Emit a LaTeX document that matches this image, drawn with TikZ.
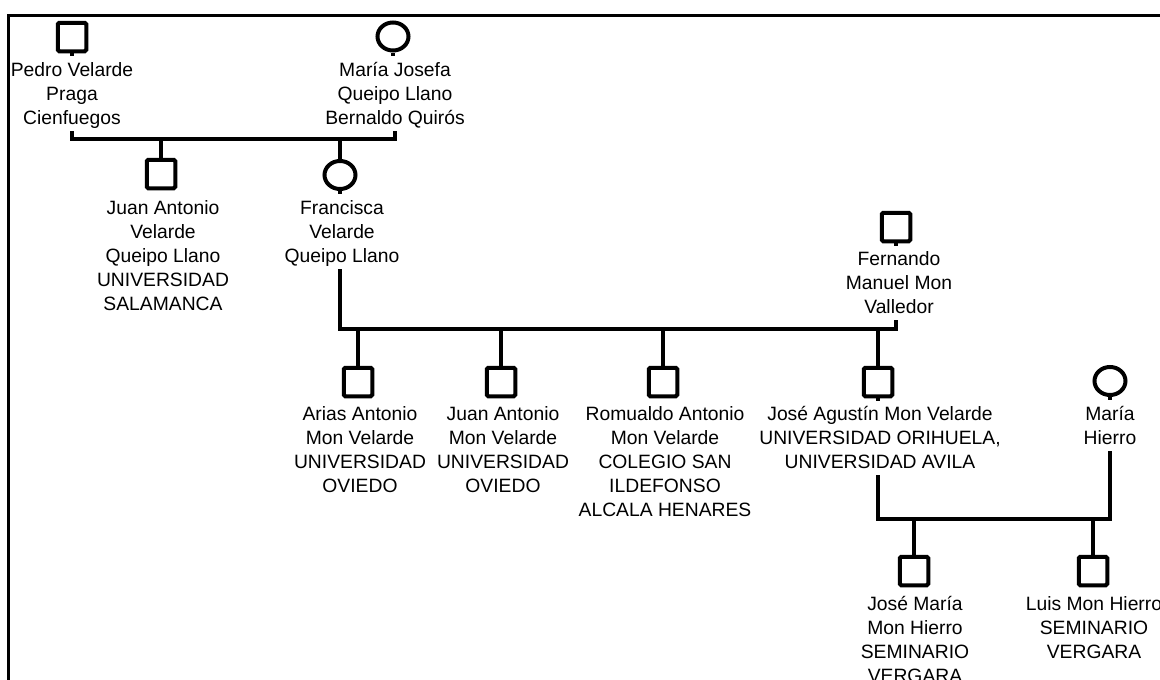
\documentclass[tikz,border=0pt]{standalone}
\usepackage{fontspec}
\setmainfont{Liberation Sans}
\usetikzlibrary{shapes.geometric}
% multi-line name block, baseline at the first line
\newcommand{\pname}[1]{\begin{tabular}[t]{@{}c@{}}#1\end{tabular}}

\begin{document}
\begin{tikzpicture}[x=1pt,y=-1pt,
  male/.style={draw,line width=4pt,rectangle,rounded corners=1.5pt,
    minimum width=28.5pt,minimum height=28.5pt,inner sep=0pt},
  female/.style={draw,line width=4pt,ellipse,
    minimum width=31pt,minimum height=28pt,inner sep=0pt},
  who/.style={anchor=base,inner sep=0pt,font=\fontsize{19.3}{24}\selectfont},
  conn/.style={line width=4pt,line join=miter,line cap=butt},
  frame/.style={line width=3pt}]

\useasboundingbox (0,0) rectangle (1160,680);
\fill[white] (0,0) rectangle (1160,680);
\draw[frame] (8.7,680) -- (8.7,15.7) -- (1160,15.7);

% bar heights of the three unions
\coordinate (u1) at (0,139);
\coordinate (u2) at (0,329);
\coordinate (u3) at (0,519);

% --- first generation
\node[male]   (pedro)   at (72,37)    {};
\node[female] (mjosefa) at (393,36.5) {};
\node[who] (pedroT)   at (72,76)  {\pname{Pedro Velarde\\Praga\\Cienfuegos}};
\node[who] (mjosefaT) at (395,76) {\pname{María Josefa\\Queipo Llano\\Bernaldo Quirós}};
\draw[conn] (pedro.south) -- ++(0,3);
\draw[conn] (mjosefa.south) -- ++(0,3);
\draw[conn] (pedro |- pedroT.south) -- (pedro |- u1) -- (mjosefaT.south |- u1) -- (mjosefaT.south);

% --- second generation
\node[male]   (juanV)     at (161,174) {};
\node[female] (francisca) at (340,175) {};
\node[who] (juanVT)     at (163,214) {\pname{Juan Antonio\\Velarde\\Queipo Llano\\UNIVERSIDAD\\SALAMANCA}};
\node[who] (franciscaT) at (342,214) {\pname{Francisca\\Velarde\\Queipo Llano}};
\draw[conn] (juanV |- u1) -- (juanV.north);
\draw[conn] (francisca |- u1) -- (francisca.north);
\draw[conn] (francisca.south) -- ++(0,3);

\node[male] (fernando) at (896,227) {};
\node[who] (fernandoT) at (899,265) {\pname{Fernando\\Manuel Mon\\Valledor}};
\draw[conn] (fernando.south) -- ++(0,3);
\draw[conn] (francisca |- franciscaT.south) -- (francisca |- u2) -- (fernando |- u2) -- (fernando |- fernandoT.south);

% --- third generation
\node[male] (arias)    at (358,382) {};
\node[male] (juanM)    at (501,382) {};
\node[male] (romualdo) at (663,382) {};
\node[male] (jose)     at (878,382) {};
\node[female] (mhierro) at (1110,381) {};
\foreach \c in {arias,juanM,romualdo,jose}
  \draw[conn] (\c |- u2) -- (\c.north);
\draw[conn] (jose.south) -- ++(0,3);
\draw[conn] (mhierro.south) -- ++(0,3);

\node[who] (ariasT)    at (360,420) {\pname{Arias Antonio\\Mon Velarde\\UNIVERSIDAD\\OVIEDO}};
\node[who] (juanMT)    at (503,420) {\pname{Juan Antonio\\Mon Velarde\\UNIVERSIDAD\\OVIEDO}};
\node[who] (romualdoT) at (665,420) {\pname{Romualdo Antonio\\Mon Velarde\\COLEGIO SAN\\ILDEFONSO\\ALCALA HENARES}};
\node[who] (joseT)     at (880,420) {\pname{José Agustín Mon Velarde\\UNIVERSIDAD ORIHUELA,\\UNIVERSIDAD AVILA}};
\node[who] (mhierroT)  at (1110,420) {\pname{María\\Hierro}};
\draw[conn] (jose |- joseT.south) -- (jose |- u3) -- (mhierro |- u3) -- (mhierro |- mhierroT.south);

% --- fourth generation
\node[male] (josem) at (914,571) {};
\node[male] (luis)  at (1093,571) {};
\draw[conn] (josem |- u3) -- (josem.north);
\draw[conn] (luis |- u3) -- (luis.north);
\node[who] (josemT) at (915,610)  {\pname{José María\\Mon Hierro\\SEMINARIO\\VERGARA}};
\node[who] (luisT)  at (1094,610) {\pname{Luis Mon Hierro\\SEMINARIO\\VERGARA}};

\end{tikzpicture}
\end{document}
